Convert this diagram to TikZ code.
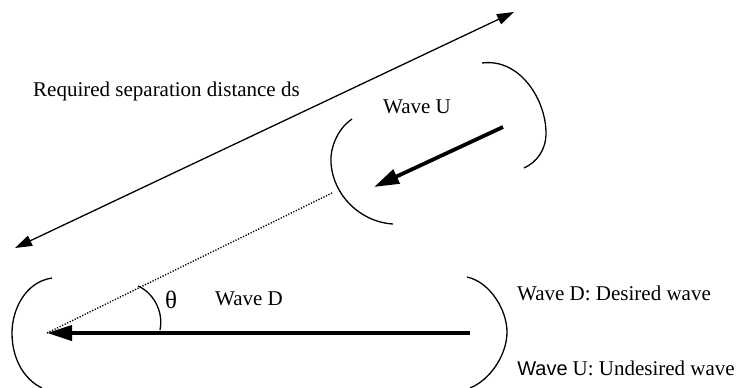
\documentclass[tikz,border=0pt]{standalone}
\usepackage{fontspec}
\setmainfont{Liberation Serif}
\setsansfont{Liberation Sans}
\usepackage{tikz}
\usetikzlibrary{arrows.meta}
\tikzset{
  wavearc/.style  = {draw=black, line width=1.3pt},
  wavedir/.style  = {-{Triangle[length=25pt,width=15pt]}, draw=black, line width=3.8pt},
  sepline/.style  = {{Triangle[length=17pt,width=11pt]}-{Triangle[length=17pt,width=11pt]},
                     draw=black, line width=1.3pt},
  sightline/.style = {draw=black, line width=1.4pt, dash pattern=on 1.2pt off 1.6pt},
  wavelbl/.style  = {font=\fontsize{21}{24}\selectfont, inner sep=0pt},
}

\begin{document}
\begin{tikzpicture}[x=1pt, y=-1pt]
  \useasboundingbox (0,0) rectangle (737,388);

  % end points of the connectors
  \coordinate (sepA)  at (15,248);
  \coordinate (sepB)  at (514,12);
  \coordinate (utail) at (503,127);
  \coordinate (uhead) at (374,187);
  \coordinate (dtail) at (470,333);
  \coordinate (dhead) at (47,333);
  \coordinate (sightend) at (332,193);

  % labels
  \node[wavelbl, anchor=west] (seplbl) at (33,91)  {Required separation distance ds};
  \node[wavelbl, anchor=west] (ulbl)   at (383,107) {Wave U};
  \node[wavelbl, anchor=west] (dlbl)   at (215,299) {Wave D};
  \node[wavelbl, font=\fontsize{25}{28}\selectfont] (theta) at (171,300) {θ};
  \node[wavelbl, anchor=west] (keyd) at (517,293) {Wave D: Desired wave};
  \node[wavelbl, anchor=east] (keyu) at (735,368)
        {{\sffamily\fontsize{20}{24}\selectfont Wave}\hspace{5pt}U: Undesired wave};

  % arrows
  \draw[sepline] (sepA) -- (sepB);
  \draw[wavedir] (utail) -- (uhead);
  \draw[sightline] (dhead) -- (sightend);
  \draw[wavedir] (dtail) -- (dhead);

  % wave fronts
  \draw[wavearc] (482,63) .. controls (520,58) and (546,100) .. (546,133)
                 .. controls (546,150) and (537,162) .. (524,168);
  \draw[wavearc] (352,119) .. controls (336,130) and (330,150) .. (331,163)
                 .. controls (333,195) and (360,222) .. (393,224);
  \draw[wavearc] (52,278) .. controls (25,282) and (12,310) .. (12,333)
                 .. controls (12,360) and (25,380) .. (42,388);
  \draw[wavearc] (467,277) .. controls (490,282) and (507,310) .. (507,332)
                 .. controls (507,355) and (490,380) .. (470,388);

  % angle
  \draw[wavearc] (138,286) .. controls (152,292) and (164,310) .. (160,330);
\end{tikzpicture}
\end{document}
